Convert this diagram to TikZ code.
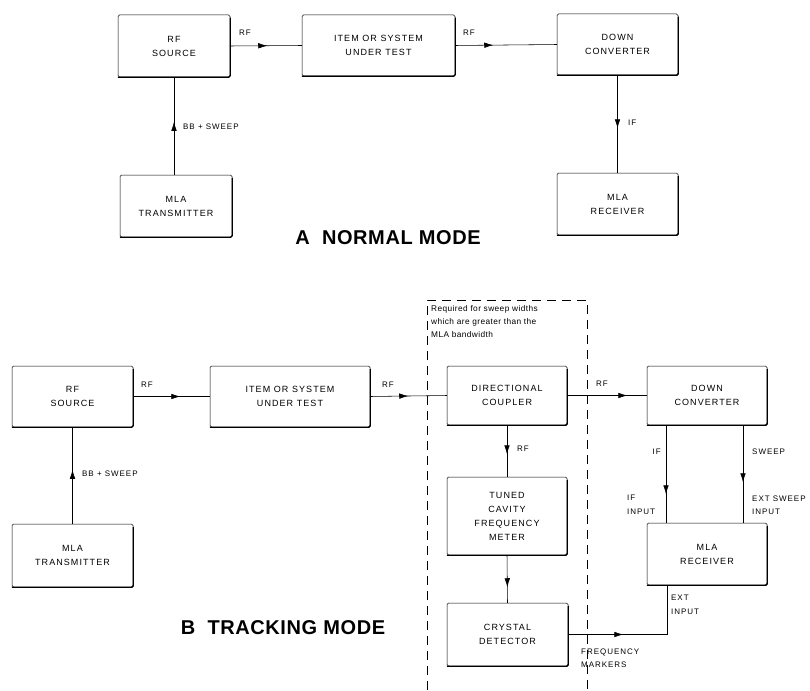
\documentclass[tikz,border=0pt]{standalone}
\usepackage{fontspec}
\setmainfont{Liberation Sans}
\newfontfamily\boxfont[LetterSpace=12]{Liberation Sans}
\newfontfamily\smallfont[LetterSpace=5]{Liberation Sans}
\newfontfamily\titlefont[LetterSpace=3]{Liberation Sans}
\usetikzlibrary{arrows.meta,decorations.markings,calc}
\begin{document}
\begin{tikzpicture}[x=1pt,y=-1pt,
  blk/.style={draw, line width=0.5pt, rounded corners=1.5pt, inner sep=0pt, align=center,
    font=\boxfont\fontsize{9}{14}\selectfont},
  lbl/.style={inner sep=0pt, align=left, font=\boxfont\fontsize{8}{13.5}\selectfont},
  conn/.style={line width=0.55pt},
  tipat/.style={postaction={decorate}, decoration={markings,
    mark=at position #1 with {\arrow{Latex[length=9pt,width=5.5pt]}}}},
  ttl/.style={inner sep=0pt, font=\titlefont\bfseries\fontsize{20}{24}\selectfont},
  shadowline/.style={line width=1.4pt, rounded corners=1.5pt},
]
\useasboundingbox (0,0) rectangle (810,690);

% ---------------- A NORMAL MODE ----------------
\node[blk, minimum width=112, minimum height=62] (srcA)  at (174,46)    {RF\\SOURCE};
\node[blk, minimum width=153, minimum height=61] (itemA) at (378.5,45.5) {ITEM OR SYSTEM\\UNDER TEST};
\node[blk, minimum width=121, minimum height=61] (dcA)   at (617.5,44.5) {DOWN\\CONVERTER};
\node[blk, minimum width=112, minimum height=62] (txA)   at (176,206)   {MLA\\TRANSMITTER};
\node[blk, minimum width=121, minimum height=62] (rxA)   at (617.5,204) {MLA\\RECEIVER};
\node[ttl] (ttlA) at (388,238) {A\ \ NORMAL MODE};

\draw[conn, tipat=37pt] (srcA.east) -- (itemA.west);
\draw[conn, tipat=38pt] (itemA.east) -- (dcA.west);
\draw[conn, tipat=53pt] (txA.north -| srcA.south) -- (srcA.south);
\draw[conn, tipat=53pt] (dcA.south) -- (rxA.north);

\node[lbl] (rfA1) at (245,33) {RF};
\node[lbl] (rfA2) at (469,33) {RF};
\node[lbl, anchor=west] (bbA) at (183,127) {BB + SWEEP};
\node[lbl, anchor=west] (ifA) at (628,123) {IF};

% ---------------- B TRACKING MODE ----------------
\draw[dashed, dash pattern=on 9pt off 6pt, line width=0.6pt]
  (427,690) -- (427,300) -- (587,300) -- (587,690);
\node[lbl, anchor=north west, font=\smallfont\fontsize{8.3}{13}\selectfont] (req) at (431,305)
  {Required for sweep widths\\which are greater than the\\MLA bandwidth};

\node[blk, minimum width=121, minimum height=61] (srcB)  at (72.5,396.5) {RF\\SOURCE};
\node[blk, minimum width=160, minimum height=61] (itemB) at (290,396.5)  {ITEM OR SYSTEM\\UNDER TEST};
\node[blk, minimum width=120, minimum height=59] (cpl)   at (507,395.5)  {DIRECTIONAL\\COUPLER};
\node[blk, minimum width=120, minimum height=59] (dcB)   at (707,395.5)  {DOWN\\CONVERTER};
\node[blk, minimum width=120, minimum height=78] (tcf)   at (507,516)    {TUNED\\CAVITY\\FREQUENCY\\METER};
\node[blk, minimum width=121, minimum height=63] (xtal)  at (507.5,634.5) {CRYSTAL\\DETECTOR};
\node[blk, minimum width=121, minimum height=63] (txB)   at (72.5,555.5) {MLA\\TRANSMITTER};
\node[blk, minimum width=120, minimum height=62] (rxB)   at (707,554)    {MLA\\RECEIVER};
\node[ttl] (ttlB) at (283,628) {B\ \ TRACKING MODE};

\coordinate (ifx) at (666,0);
\coordinate (swx) at (743,0);
\coordinate (fmx) at (667,0);

\draw[conn, tipat=47pt] (srcB.east) -- (itemB.west);
\draw[conn, tipat=38pt] (itemB.east) -- (cpl.west);
\draw[conn, tipat=60pt] (cpl.east) -- (dcB.west);
\draw[conn, tipat=29pt] (cpl.south) -- (tcf.north);
\draw[conn, tipat=32pt] (tcf.south) -- (xtal.north);
\draw[conn, tipat=54pt] (txB.north) -- (srcB.south);
\draw[conn, tipat=69pt] (dcB.south -| ifx) -- (rxB.north -| ifx);
\draw[conn, tipat=57pt] (dcB.south -| swx) -- (rxB.north -| swx);
\draw[conn, tipat=55pt] (xtal.east) -- (xtal.east -| fmx) -- (rxB.south -| fmx);

\node[lbl] (rfB1) at (147,385) {RF};
\node[lbl] (rfB2) at (388,385) {RF};
\node[lbl] (rfB3) at (602,384) {RF};
\node[lbl, anchor=west] (rfB4) at (517,449) {RF};
\node[lbl, anchor=west] (bbB) at (82,474) {BB + SWEEP};
\node[lbl, anchor=east] (ifB) at (661,452) {IF};
\node[lbl, anchor=west] (swB) at (752,452) {SWEEP};
\node[lbl, anchor=west] (ifin) at (627,505) {IF\\INPUT};
\node[lbl, anchor=west] (swin) at (752,505) {EXT SWEEP\\INPUT};
\node[lbl, anchor=west] (extin) at (671,605) {EXT\\INPUT};
\node[lbl, anchor=west] (fmk) at (581,658) {FREQUENCY\\MARKERS};

% heavier bottom/right edges of the boxes
\foreach \n in {srcA,itemA,dcA,txA,rxA,srcB,itemB,cpl,dcB,tcf,xtal,txB,rxB}
  \draw[shadowline] ([yshift=-3pt]\n.north east) -- (\n.south east) -- (\n.south west);
\end{tikzpicture}
\end{document}
